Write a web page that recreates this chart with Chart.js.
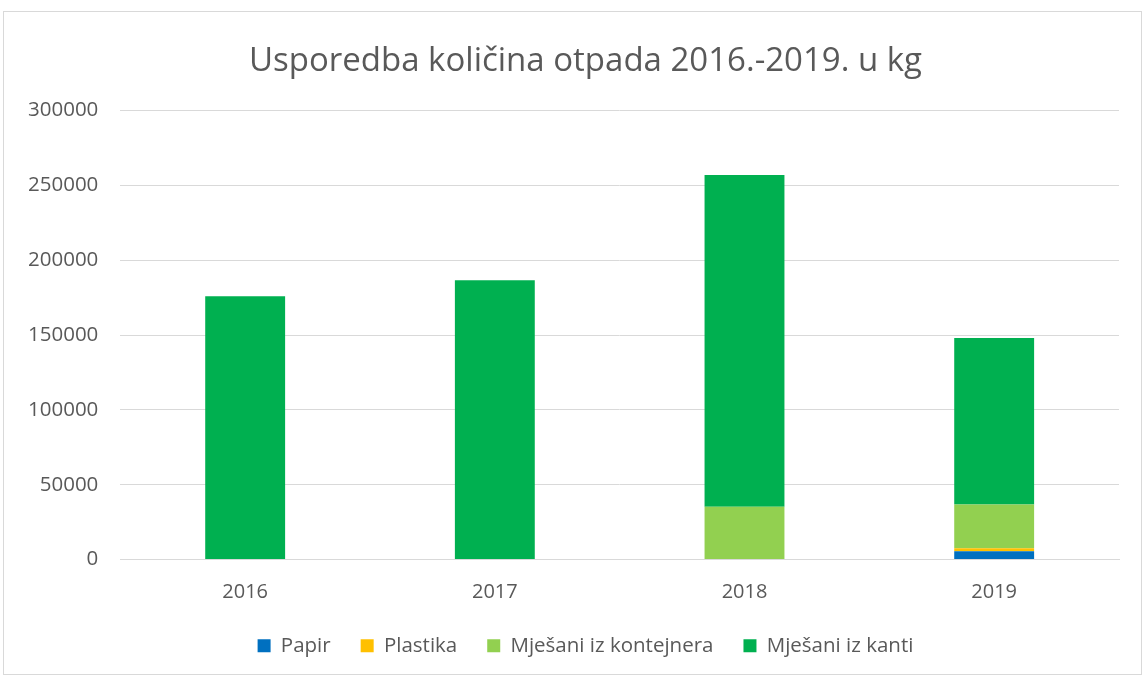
<!DOCTYPE html>
<html>
<head>
<meta charset="utf-8">
<script src="https://cdn.jsdelivr.net/npm/chart.js@4"></script>
<style>
	html, body { margin: 0; padding: 0; background: #fff; }
	#frame {
		position: absolute; left: 3px; top: 11px; width: 1139px; height: 664px;
		border: 1px solid #d9d9d9; box-sizing: border-box;
	}
	#wrap { position: absolute; left: 0; top: 0; width: 1137px; height: 662px; }
</style>
</head>
<body>
<div id="frame"><div id="wrap"><canvas id="chart"></canvas></div></div>
<script>
const years = ['2016', '2017', '2018', '2019'];
const papir = [0, 0, 0, 5500];
const plastika = [0, 0, 0, 2000];
const mjesaniKontejner = [0, 0, 35300, 29200];
const mjesaniKanti = [176000, 186700, 221700, 111300];
const yTicks = [0, 50000, 100000, 150000, 200000, 250000, 300000];

const txt = '#595959';
const font = "'Open Sans', 'DejaVu Sans', sans-serif";

// Excel-like placement: title/legend a bit right of centre, legend closer to the axis
const excelPlacement = {
	id: 'excelPlacement',
	beforeInit(chart) {
		const lg = chart.legend;
		if (!lg) return;
		const fit = lg.fit;
		lg.fit = function () { fit.call(this); this.height -= 6; };
	},
	afterLayout(chart) {
		if (chart.titleBlock) chart.titleBlock.left += 46;
		if (chart.legend) {
			chart.legend.left += 46;
			chart.legend.top -= 12;
		}
	}
};

new Chart(document.getElementById('chart'), {
	type: 'bar',
	data: {
		labels: years,
		datasets: [
			{ label: 'Papir', data: papir, backgroundColor: '#0070C0' },
			{ label: 'Plastika', data: plastika, backgroundColor: '#FFC000' },
			{ label: 'Mješani iz kontejnera', data: mjesaniKontejner, backgroundColor: '#92D050' },
			{ label: 'Mješani iz kanti', data: mjesaniKanti, backgroundColor: '#00B050' }
		].map(d => Object.assign(d, { barPercentage: 0.64, categoryPercentage: 0.5 }))
	},
	options: {
		responsive: true,
		maintainAspectRatio: false,
		animation: false,
		layout: { padding: { left: 2, right: 22, top: 10, bottom: 2 } },
		plugins: {
			title: {
				display: true,
				text: 'Usporedba količina otpada 2016.-2019. u kg',
				color: txt,
				font: { family: font, size: 33, weight: 'normal' },
				padding: { top: 20, bottom: 29 }
			},
			legend: {
				position: 'bottom',
				labels: {
					color: txt,
					font: { family: font, size: 20.5 },
					boxWidth: 13, boxHeight: 13,
					padding: 30
				}
			},
			tooltip: { enabled: false }
		},
		scales: {
			x: {
				stacked: true,
				grid: { display: false },
				border: { color: '#d9d9d9' },
				ticks: { color: txt, font: { family: font, size: 20 }, padding: 13 }
			},
			y: {
				stacked: true,
				min: 0,
				max: 300000,
				afterBuildTicks: axis => { axis.ticks = yTicks.map(v => ({ value: v })); },
				grid: { color: '#d9d9d9', drawTicks: false },
				border: { display: false },
				ticks: {
					color: txt, font: { family: font, size: 20.5 }, padding: 22,
					callback: v => String(v)
				}
			}
		}
	},
	plugins: [excelPlacement]
});
</script>
</body>
</html>
